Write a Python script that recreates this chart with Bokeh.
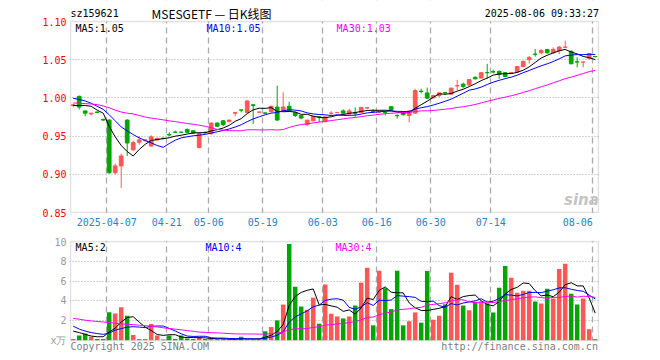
from bokeh.plotting import figure
from bokeh.models import ColumnDataSource, FixedTicker, Label, Range1d, Grid, BoxAnnotation
from bokeh.layouts import column
from bokeh.embed import file_html
from bokeh.resources import INLINE

# ---------------- data ----------------
tick_labels = ["2025-04-07", "04-21", "05-06", "05-19", "06-03", "06-16", "06-30", "07-14", "08-06"]
tick_index = [6, 16, 23, 32, 42, 51, 60, 70, 87]

price_ticks = [0.85, 0.90, 0.95, 1.00, 1.05, 1.10]
price_tick_labels = ["0.85", "0.90", "0.95", "1.00", "1.05", "1.10"]
vol_ticks = [0, 2, 4, 6, 8, 10]
vol_tick_labels = ["x万", "2", "4", "6", "8", "10"]

price_header = ["MA5:1.05", "MA10:1.05", "MA30:1.03"]
vol_header = ["MA5:2", "MA10:4", "MA30:4"]

open_ = [0.990, 1.002, 0.983, 0.979, 0.9815, 0.972, 0.971, 0.902, 0.911, 0.971,
         0.932, 0.942, 0.944, 0.937, 0.945, 0.9472, 0.952, 0.9552, 0.9552, 0.9587,
         0.957, 0.935, 0.955, 0.953, 0.967, 0.970, 0.969, 0.980, 0.9843, 0.981,
         0.991, 0.9812, 0.9802, 0.982, 0.988, 0.983, 0.989, 0.981, 0.977, 0.965,
         0.970, 0.9752, 0.969, 0.9798, 0.9808, 0.983, 0.979, 0.9803, 0.981, 0.9868,
         0.9825, 0.9815, 0.9812, 0.9885, 0.9772, 0.981, 0.977, 0.980, 1.0088, 1.0065,
         1.000, 1.003, 1.0068, 1.005, 1.0158, 1.018, 1.017, 1.027, 1.026, 1.0332,
         1.0342, 1.0346, 1.033, 1.0328, 1.034, 1.041, 1.050, 1.0573, 1.059, 1.0635,
         1.059, 1.062, 1.0663, 1.061, 1.0472, 1.0468, 1.052, 1.0542]
high = [0.992, 1.003, 0.983, 0.980, 0.982, 0.972, 0.972, 0.914, 0.927, 0.972,
        0.944, 0.950, 0.946, 0.951, 0.948, 0.948, 0.955, 0.957, 0.9555, 0.960,
        0.958, 0.954, 0.956, 0.968, 0.968, 0.971, 0.971, 0.981, 0.9845, 0.997,
        0.9915, 0.9825, 0.981, 0.990, 1.016, 1.0074, 0.995, 0.982, 0.977, 0.971,
        0.9765, 0.976, 0.976, 0.9825, 0.9815, 0.985, 0.986, 0.9875, 0.988, 0.9875,
        0.985, 0.983, 0.983, 0.989, 0.978, 0.982, 0.984, 1.012, 1.012, 1.0135,
        1.004, 1.007, 1.008, 1.0135, 1.0236, 1.020, 1.024, 1.028, 1.034, 1.0446,
        1.037, 1.036, 1.034, 1.034, 1.042, 1.048, 1.055, 1.064, 1.064, 1.064,
        1.066, 1.068, 1.075, 1.062, 1.053, 1.047, 1.059, 1.055]
low = [0.988, 0.985, 0.976, 0.977, 0.980, 0.970, 0.901, 0.900, 0.882, 0.924,
       0.931, 0.939, 0.943, 0.936, 0.944, 0.946, 0.950, 0.954, 0.9548, 0.954,
       0.953, 0.934, 0.953, 0.952, 0.962, 0.963, 0.968, 0.976, 0.981, 0.981,
       0.9657, 0.981, 0.979, 0.981, 0.970, 0.982, 0.982, 0.975, 0.972, 0.963,
       0.9695, 0.968, 0.968, 0.977, 0.980, 0.979, 0.978, 0.9755, 0.980, 0.985,
       0.980, 0.980, 0.977, 0.984, 0.973, 0.977, 0.968, 0.979, 1.006, 0.999,
       0.9995, 1.001, 1.004, 1.004, 1.010, 1.0125, 1.016, 1.024, 1.025, 1.025,
       1.032, 1.025, 1.027, 1.032, 1.033, 1.040, 1.045, 1.054, 1.057, 1.058,
       1.058, 1.057, 1.065, 1.044, 1.040, 1.040, 1.050, 1.053]
close = [0.991, 0.988, 0.980, 0.980, 0.981, 0.971, 0.902, 0.911, 0.924, 0.941,
         0.9415, 0.945, 0.945, 0.949, 0.947, 0.947, 0.9515, 0.955, 0.955, 0.955,
         0.954, 0.9535, 0.9545, 0.967, 0.963, 0.965, 0.971, 0.981, 0.984, 0.996,
         0.990, 0.9815, 0.980, 0.989, 0.971, 0.988, 0.983, 0.977, 0.9736, 0.971,
         0.9757, 0.975, 0.975, 0.980, 0.981, 0.980, 0.983, 0.980, 0.9876, 0.987,
         0.982, 0.982, 0.981, 0.9846, 0.9767, 0.978, 0.983, 1.0096, 1.0083, 0.9997,
         1.003, 1.0065, 1.0065, 1.0127, 1.016, 1.015, 1.024, 1.025, 1.033, 1.033,
         1.034, 1.031, 1.028, 1.033, 1.041, 1.048, 1.053, 1.057, 1.062, 1.059,
         1.0635, 1.0665, 1.0665, 1.0447, 1.047, 1.047, 1.058, 1.054]

ma5 = [0.990, 0.990, 0.990, 0.989, 0.984, 0.980, 0.9628, 0.949, 0.9378, 0.9298,
       0.9239, 0.9325, 0.9393, 0.9443, 0.9455, 0.9466, 0.9479, 0.9499, 0.9511, 0.9527,
       0.9541, 0.9545, 0.9544, 0.9568, 0.9584, 0.9606, 0.9641, 0.9694, 0.9728, 0.9794,
       0.9844, 0.9865, 0.9863, 0.9873, 0.9823, 0.9819, 0.9822, 0.9816, 0.9785, 0.9785,
       0.9761, 0.9745, 0.9741, 0.9753, 0.9773, 0.9782, 0.9798, 0.9808, 0.9823, 0.9835,
       0.9839, 0.9837, 0.9839, 0.9833, 0.9813, 0.9805, 0.9807, 0.9864, 0.9911, 0.9957,
       1.0007, 1.0054, 1.0048, 1.0057, 1.0089, 1.0113, 1.0148, 1.0185, 1.0226, 1.026,
       1.0298, 1.0312, 1.0318, 1.0318, 1.0334, 1.0362, 1.0406, 1.0464, 1.0522, 1.0558,
       1.0589, 1.0616, 1.0635, 1.060, 1.0576, 1.0543, 1.0526, 1.0501]
ma10 = [0.9995, 0.998, 0.996, 0.993, 0.989, 0.985, 0.978, 0.970, 0.962, 0.9569,
        0.952, 0.9477, 0.9442, 0.9411, 0.9377, 0.9353, 0.9402, 0.9446, 0.9477, 0.9491,
        0.9504, 0.9512, 0.9522, 0.954, 0.9556, 0.9574, 0.9593, 0.9619, 0.9648, 0.9689,
        0.9725, 0.9753, 0.9779, 0.9801, 0.9809, 0.9832, 0.9844, 0.984, 0.9829, 0.9804,
        0.979, 0.9783, 0.9778, 0.9769, 0.9779, 0.9771, 0.9771, 0.9774, 0.9788, 0.9804,
        0.9811, 0.9818, 0.9824, 0.9828, 0.9824, 0.9822, 0.9822, 0.9852, 0.9872, 0.9885,
        0.9906, 0.993, 0.9956, 0.9984, 1.0023, 1.006, 1.0101, 1.0117, 1.0141, 1.0175,
        1.0206, 1.023, 1.0252, 1.0272, 1.0297, 1.033, 1.0359, 1.0391, 1.042, 1.0446,
        1.0476, 1.0511, 1.055, 1.0561, 1.0567, 1.0566, 1.0571, 1.0568]
ma30 = [0.9934, 0.993, 0.9925, 0.992, 0.9912, 0.9895, 0.987, 0.984, 0.9815, 0.980,
        0.979, 0.977, 0.975, 0.9735, 0.9725, 0.9712, 0.970, 0.969, 0.9678, 0.9665,
        0.9655, 0.9643, 0.9628, 0.961, 0.9588, 0.9578, 0.9572, 0.957, 0.957, 0.9583,
        0.9583, 0.9581, 0.9581, 0.9584, 0.958, 0.9586, 0.9613, 0.9635, 0.9651, 0.9661,
        0.9673, 0.9683, 0.9693, 0.9703, 0.9714, 0.9725, 0.9736, 0.9744, 0.9755, 0.9766,
        0.9775, 0.9785, 0.9793, 0.9799, 0.9804, 0.9808, 0.9812, 0.9822, 0.983, 0.9831,
        0.9835, 0.9844, 0.9852, 0.986, 0.9875, 0.9884, 0.9898, 0.9914, 0.9934, 0.9955,
        0.9974, 0.9993, 1.001, 1.0028, 1.0048, 1.0071, 1.0094, 1.012, 1.0145, 1.0169,
        1.0196, 1.0224, 1.0252, 1.0272, 1.0296, 1.0319, 1.0344, 1.0359]

volume = [0.16, 0.5, 0.7, 0.37, 0.16, 0.16, 2.86, 2.73, 3.36, 2.5,
          0.56, 0.16, 0.16, 1.66, 0.5, 0.1, 0.5, 0.16, 0.5, 0.2,
          0.16, 0.35, 0.15, 0.15, 0.12, 0.12, 0.1, 0.1, 0.37, 0.12,
          0.1, 0.12, 0.93, 1.36, 2.03, 3.63, 9.76, 5.43, 3.43, 3.1,
          4.33, 1.7, 5.66, 2.7, 2.43, 2.23, 2.43, 3.53, 5.85, 7.35,
          1.53, 7.05, 5.28, 3.17, 7.05, 1.53, 1.95, 2.83, 1.8, 7.03,
          2.1, 2.5, 3.65, 6.85, 5.63, 3.53, 3.05, 3.9, 3.95, 3.76,
          2.83, 5.33, 7.53, 6.33, 4.83, 5.03, 5.03, 3.93, 3.73, 5.23,
          4.23, 7.23, 7.76, 4.73, 3.63, 4.23, 1.13, 0.13]
vol_ma5 = [0.95, 0.8, 0.62, 0.45, 0.378, 0.378, 0.85, 1.256, 1.854, 2.322,
           2.402, 1.862, 1.348, 1.008, 0.608, 0.516, 0.584, 0.584, 0.352, 0.292,
           0.304, 0.274, 0.272, 0.202, 0.186, 0.178, 0.128, 0.118, 0.162, 0.162,
           0.158, 0.162, 0.328, 0.526, 0.908, 1.614, 3.542, 4.442, 4.856, 5.07,
           5.21, 3.598, 3.644, 3.498, 3.364, 2.944, 3.09, 2.664, 3.294, 4.278,
           4.138, 5.062, 5.412, 4.876, 4.816, 4.816, 3.796, 3.306, 3.032, 3.028,
           3.142, 3.252, 3.416, 4.426, 4.146, 4.432, 4.542, 4.592, 4.012, 3.638,
           3.498, 3.954, 4.68, 5.156, 5.37, 5.81, 5.75, 5.03, 4.51, 4.59,
           4.43, 4.87, 5.636, 5.836, 5.516, 5.516, 4.296, 2.77]
vol_ma10 = [1.45, 1.15, 0.95, 0.8, 0.7, 0.62, 0.75, 1.05, 1.2, 1.35,
            1.39, 1.356, 1.302, 1.431, 1.465, 1.459, 1.223, 0.966, 0.68, 0.45,
            0.41, 0.429, 0.428, 0.277, 0.239, 0.241, 0.201, 0.195, 0.182, 0.174,
            0.168, 0.145, 0.223, 0.344, 0.535, 0.886, 1.852, 2.385, 2.691, 2.989,
            3.412, 3.57, 4.043, 4.177, 4.217, 4.077, 3.344, 3.154, 3.396, 3.821,
            3.541, 4.076, 4.038, 4.085, 4.547, 4.477, 4.429, 4.359, 3.954, 3.922,
            3.979, 3.524, 3.361, 3.729, 3.587, 3.787, 3.897, 4.004, 4.219, 3.892,
            3.965, 4.248, 4.636, 4.584, 4.504, 4.654, 4.852, 4.855, 4.833, 4.98,
            5.12, 5.31, 5.333, 5.173, 5.053, 4.973, 4.583, 4.203]
vol_ma30 = [2.23, 2.15, 2.05, 1.98, 1.92, 1.87, 1.82, 1.75, 1.68, 1.63,
            1.6, 1.55, 1.5, 1.43, 1.37, 1.28, 1.22, 1.15, 1.08, 1.0,
            0.93, 0.85, 0.82, 0.79, 0.77, 0.74, 0.7, 0.67, 0.66, 0.658,
            0.656, 0.643, 0.651, 0.684, 0.746, 0.862, 1.092, 1.182, 1.184, 1.204,
            1.33, 1.381, 1.564, 1.599, 1.663, 1.734, 1.798, 1.911, 2.089, 2.327,
            2.373, 2.596, 2.767, 2.868, 3.099, 3.146, 3.208, 3.299, 3.346, 3.577,
            3.643, 3.723, 3.813, 3.996, 4.116, 4.113, 3.889, 3.838, 3.855, 3.877,
            3.827, 3.948, 4.01, 4.131, 4.211, 4.305, 4.391, 4.405, 4.334, 4.263,
            4.353, 4.359, 4.442, 4.494, 4.38, 4.47, 4.443, 4.353]

# ---------------- styling ----------------
UP = "#FF5757"
DOWN = "#00A600"
MONO = "DejaVu Sans Mono"
CJK = "Noto Sans CJK SC"
AXIS_BLUE = "#1A86D0"
GRID = "#aaaaaa"
FRAME = "#9a9a9a"

N = len(close)
xs = list(range(N))
colors = [UP if c >= o else DOWN for o, c in zip(open_, close)]
src = ColumnDataSource(dict(
    x=xs, high=high, low=low,
    top=[max(o, c) for o, c in zip(open_, close)],
    bottom=[min(o, c) for o, c in zip(open_, close)],
    color=colors, ma5=ma5, ma10=ma10, ma30=ma30,
    vol=volume, vma5=vol_ma5, vma10=vol_ma10, vma30=vol_ma30,
))

# geometry: 6 px per trading day; panel boxes drawn 1 px inside the frames
PXX = 6.0
X0, X1 = -0.45, N - 0.45
x_range = Range1d(X0 - 1 / PXX, X1 + 1 / PXX)
tick_pos = [i - 0.4 for i in tick_index]

P_LO, P_HI = price_ticks[0], price_ticks[-1]
PXP = 191 / (P_HI - P_LO)            # px per price unit
V_LO, V_HI = vol_ticks[0], vol_ticks[-1]
PXV = 9.9                             # px per volume unit


def plain_axis(ax, color):
    ax.axis_line_color = None
    ax.major_tick_line_color = None
    ax.minor_tick_line_color = None
    ax.major_tick_out = 0
    ax.major_tick_in = 0
    ax.minor_tick_out = 0
    ax.minor_tick_in = 0
    ax.major_label_standoff = 3
    ax.major_label_text_font = MONO
    ax.major_label_text_font_size = "10px"
    ax.major_label_text_color = color


def style_fig(f, ycolor):
    f.background_fill_color = "white"
    f.border_fill_color = "white"
    f.outline_line_color = None
    f.ygrid.grid_line_color = GRID
    f.ygrid.grid_line_dash = "1 2"
    f.ygrid.grid_line_width = 1
    for ax in f.yaxis:
        plain_axis(ax, ycolor)


def masks_and_box(f, lo, hi):
    f.add_layout(BoxAnnotation(bottom=hi, fill_color="white", fill_alpha=1, line_color=None))
    f.add_layout(BoxAnnotation(top=lo, fill_color="white", fill_alpha=1, line_color=None))
    f.add_layout(BoxAnnotation(left=X0, right=X1, bottom=lo, top=hi, fill_alpha=0,
                               line_color=FRAME, line_width=1.5))


# ---------------- price panel ----------------
p = figure(width=650, height=236, x_range=x_range,
           y_range=Range1d(P_LO - 1 / PXP, P_HI + 21 / PXP),
           output_backend="svg", toolbar_location=None,
           min_border_left=69, min_border_right=51, min_border_top=0, min_border_bottom=23)
style_fig(p, "#FF0000")
p.yaxis.ticker = FixedTicker(ticks=price_ticks)
p.yaxis.major_label_overrides = {t: s for t, s in zip(price_ticks, price_tick_labels)}
p.ygrid.ticker = FixedTicker(ticks=price_ticks[1:-1])

p.xgrid.ticker = FixedTicker(ticks=tick_pos)
p.xgrid.grid_line_color = GRID
p.xgrid.grid_line_dash = "6 4"
p.xgrid.grid_line_width = 1.3

p.xaxis.ticker = FixedTicker(ticks=tick_pos)
over = {t: s for t, s in zip(tick_pos, tick_labels)}
# the last date sits left of its grid line (padded so its right end meets the line)
over[tick_pos[-1]] = tick_labels[-1] + "\u00a0" * len(tick_labels[-1])
p.xaxis.major_label_overrides = over
for ax in p.xaxis:
    plain_axis(ax, AXIS_BLUE)

p.segment(x0="x", y0="high", x1="x", y1="low", line_color="color", line_width=1, source=src)
p.vbar(x="x", width=0.62, top="top", bottom="bottom", fill_color="color",
       line_color="color", line_width=1, source=src)
p.line("x", "ma5", line_color="#000000", line_width=1, source=src)
p.line("x", "ma10", line_color="#0000FF", line_width=1, source=src)
p.line("x", "ma30", line_color="#FF00FF", line_width=1, source=src)

masks_and_box(p, P_LO, P_HI)

hy = P_HI + 8.5 / PXP
p.add_layout(Label(x=X0, y=hy, text="sz159621", text_align="left", text_baseline="middle",
                   text_font=MONO, text_font_size="10px", text_color="#000000"))
p.add_layout(Label(x=13.05, y=hy, text="MSESGETF — 日K线图", text_align="left",
                   text_baseline="middle", text_font=CJK, text_font_size="12px",
                   text_color="#000000"))
p.add_layout(Label(x=X1 + 0.1, y=hy, text="2025-08-06 09:33:27", text_align="right",
                   text_baseline="middle", text_font=MONO, text_font_size="10px",
                   text_color="#000000"))

my = P_HI - 6.5 / PXP
for xpos, txt, col in zip([0.4, 22.2, 43.9], price_header, ["#000000", "#0000FF", "#FF00FF"]):
    p.add_layout(Label(x=xpos, y=my, text=txt, text_align="left", text_baseline="middle",
                       text_font=MONO, text_font_size="10px", text_color=col))

p.add_layout(Label(x=84.7, y=0.866, text="sina", text_align="center", text_baseline="middle",
                   text_font="DejaVu Sans", text_font_style="bold italic",
                   text_font_size="15px", text_color="#c4c4c4"))

# ---------------- volume panel ----------------
v = figure(width=650, height=116, x_range=x_range,
           y_range=Range1d(V_LO - 12 / PXV, V_HI + 1 / PXV),
           output_backend="svg", toolbar_location=None, x_axis_location=None,
           min_border_left=69, min_border_right=51, min_border_top=4, min_border_bottom=0)
style_fig(v, "#999999")
v.yaxis.ticker = FixedTicker(ticks=vol_ticks)
v.yaxis.major_label_overrides = {t: s for t, s in zip(vol_ticks, vol_tick_labels)}
v.ygrid.ticker = FixedTicker(ticks=vol_ticks[1:-1])
for g in list(v.xgrid):
    g.visible = False
v.add_layout(Grid(dimension=0, ticker=FixedTicker(ticks=tick_pos), grid_line_color=GRID,
                  grid_line_dash="6 4", grid_line_width=1.3))

v.vbar(x="x", width=0.75, top="vol", bottom=0, fill_color="color", line_color=None, source=src)
v.line("x", "vma5", line_color="#000000", line_width=1, source=src)
v.line("x", "vma10", line_color="#0000FF", line_width=1, source=src)
v.line("x", "vma30", line_color="#FF00FF", line_width=1, source=src)

masks_and_box(v, V_LO, V_HI)

vy = V_HI - 5.5 / PXV
for xpos, txt, col in zip([0.4, 22.05, 43.7], vol_header, ["#000000", "#0000FF", "#FF00FF"]):
    v.add_layout(Label(x=xpos, y=vy, text=txt, text_align="left", text_baseline="middle",
                       text_font=MONO, text_font_size="10px", text_color=col))

fy = V_LO - 5.5 / PXV
v.add_layout(Label(x=X0, y=fy, text="Copyright 2025 SINA.COM", text_align="left",
                   text_baseline="middle", text_font=MONO, text_font_size="10px",
                   text_color="#808080"))
v.add_layout(Label(x=X1 - 0.1, y=fy, text="http://finance.sina.com.cn", text_align="right",
                   text_baseline="middle", text_font=MONO, text_font_size="10px",
                   text_color="#808080"))

layout = column(p, v, spacing=0)
open("out.html", "w").write(file_html(layout, INLINE))
